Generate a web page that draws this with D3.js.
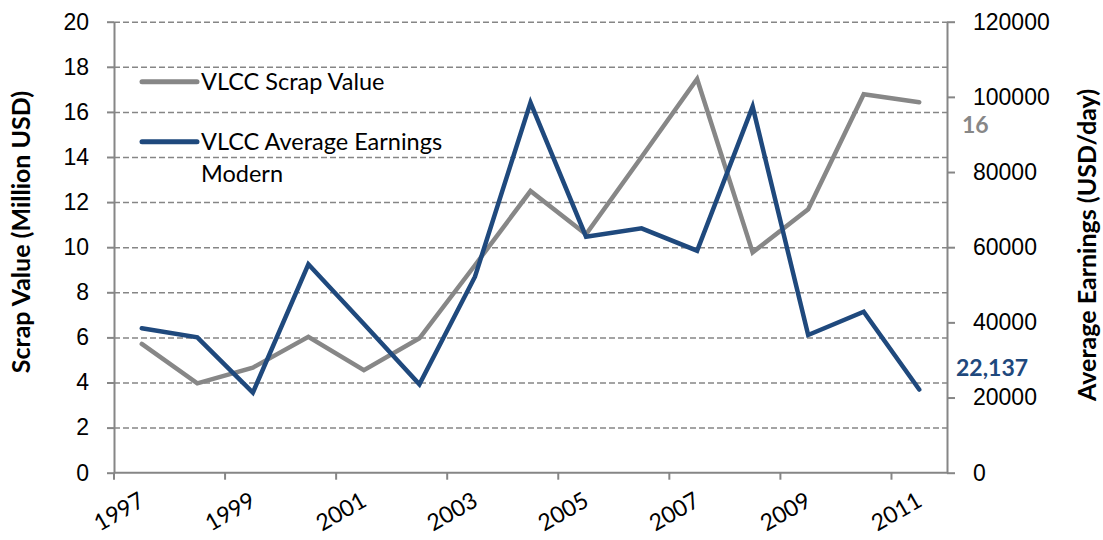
<html>
<head>
    <script src="https://d3js.org/d3.v7.min.js"></script>
    <style>
        body { margin: 0; background: white; }
        svg { display: block; font-family: Lato, "Open Sans", sans-serif; }
        .axis text { font-size: 23px; fill: #000; }
        .axis .domain { stroke: #868686; stroke-width: 2; }
        .axis .tick line { stroke: #868686; stroke-width: 2; }
        .grid .tick line { stroke: #868686; stroke-width: 1.5; stroke-dasharray: 6 3; }
        .grid .domain { display: none; }
    </style>
</head>
<body>
<svg id="chart" width="1103" height="540"></svg>
<script>
    // data
    const years = [1997, 1998, 1999, 2000, 2001, 2002, 2003, 2004, 2005, 2006, 2007, 2008, 2009, 2010, 2011];
    const scrapValue = [5.71, 3.96, 4.66, 6.03, 4.55, 5.96, 9.2, 12.49, 10.57, 14.0, 17.46, 9.77, 11.68, 16.78, 16.43];
    const avgEarnings = [38420, 36030, 21290, 55460, 39570, 23520, 52150, 98460, 62800, 65030, 59070, 97400, 36640, 42840, 22137];
    const leftTicks = [0, 2, 4, 6, 8, 10, 12, 14, 16, 18, 20];
    const rightTicks = [0, 20000, 40000, 60000, 80000, 100000, 120000];
    const labelYears = [1997, 1999, 2001, 2003, 2005, 2007, 2009, 2011];

    const grey = "#878787", blue = "#1F497D";
    const plotLeft = 114, plotRight = 947, plotTop = 21.7, plotBottom = 472.7;

    const svg = d3.select("#chart");

    const x = d3.scaleBand().domain(years).range([plotLeft, plotRight]).padding(0);
    const yL = d3.scaleLinear().domain([0, 20]).range([plotBottom, plotTop]);
    const yR = d3.scaleLinear().domain([0, 120000]).range([plotBottom, plotTop]);

    // gridlines
    svg.append("g")
        .attr("class", "grid")
        .attr("transform", "translate(" + plotLeft + ",0)")
        .call(d3.axisLeft(yL).tickValues(leftTicks.slice(1)).tickSize(-(plotRight - plotLeft)).tickFormat(""));

    // left axis
    svg.append("g")
        .attr("class", "axis")
        .attr("transform", "translate(" + plotLeft + ",0)")
        .call(d3.axisLeft(yL).tickValues(leftTicks).tickSize(7).tickSizeOuter(0).tickPadding(18));

    // right axis
    svg.append("g")
        .attr("class", "axis")
        .attr("transform", "translate(" + plotRight + ",0)")
        .call(d3.axisRight(yR).tickValues(rightTicks).tickSize(8).tickSizeOuter(0).tickPadding(18).tickFormat(d3.format("d")));

    // bottom axis: ticks every 2 categories at band edges
    const xAxis = svg.append("g")
        .attr("class", "axis")
        .attr("transform", "translate(0," + plotBottom + ")");
    xAxis.append("line")
        .attr("x1", plotLeft).attr("x2", plotRight)
        .attr("stroke", "#868686").attr("stroke-width", 2);
    xAxis.selectAll(".xtick")
        .data(labelYears)
        .enter().append("line")
        .attr("x1", d => x(d)).attr("x2", d => x(d))
        .attr("y1", 0).attr("y2", 7)
        .attr("stroke", "#868686").attr("stroke-width", 2);
    xAxis.selectAll(".xlabel")
        .data(labelYears)
        .enter().append("text")
        .attr("transform", d => "translate(" + (x(d) + x.bandwidth() / 2 - 4) + ",18) rotate(-30)")
        .attr("text-anchor", "end")
        .attr("dy", "0.72em")
        .text(d => d);

    // lines
    const greyLine = d3.line().x((d, i) => x(years[i]) + x.bandwidth() / 2).y(d => yL(d));
    const blueLine = d3.line().x((d, i) => x(years[i]) + x.bandwidth() / 2).y(d => yR(d));

    svg.append("path").datum(scrapValue)
        .attr("d", greyLine).attr("fill", "none")
        .attr("stroke", grey).attr("stroke-width", 4.5).attr("stroke-linecap", "round");
    svg.append("path").datum(avgEarnings)
        .attr("d", blueLine).attr("fill", "none")
        .attr("stroke", blue).attr("stroke-width", 4.5).attr("stroke-linecap", "round");

    // end labels
    svg.append("text").attr("x", 962).attr("y", 133)
        .style("font-size", "23px").style("font-weight", "bold").attr("fill", grey)
        .text("16");
    svg.append("text").attr("x", 956).attr("y", 376)
        .style("font-size", "23px").style("font-weight", "bold").attr("fill", blue)
        .text(d3.format(",")(avgEarnings[avgEarnings.length - 1]));

    // axis titles
    svg.append("text")
        .attr("transform", "translate(30,232) rotate(-90)")
        .attr("text-anchor", "middle")
        .style("font-size", "25px").style("font-weight", "bold")
        .text("Scrap Value (Million USD)");
    svg.append("text")
        .attr("transform", "translate(1096,245) rotate(-90)")
        .attr("text-anchor", "middle")
        .style("font-size", "25px").style("font-weight", "bold")
        .text("Average Earnings (USD/day)");

    // legend
    const legend = svg.append("g");
    legend.append("line").attr("x1", 142).attr("x2", 197).attr("y1", 81.7).attr("y2", 81.7)
        .attr("stroke", grey).attr("stroke-width", 5).attr("stroke-linecap", "round");
    legend.append("text").attr("x", 201).attr("y", 90).style("font-size", "23.5px").text("VLCC Scrap Value");
    legend.append("line").attr("x1", 142).attr("x2", 197).attr("y1", 141.7).attr("y2", 141.7)
        .attr("stroke", blue).attr("stroke-width", 5).attr("stroke-linecap", "round");
    legend.append("text").attr("x", 201).attr("y", 150).style("font-size", "23.5px").text("VLCC Average Earnings");
    legend.append("text").attr("x", 201).attr("y", 182).style("font-size", "23.5px").text("Modern");
</script>
</body>
</html>
